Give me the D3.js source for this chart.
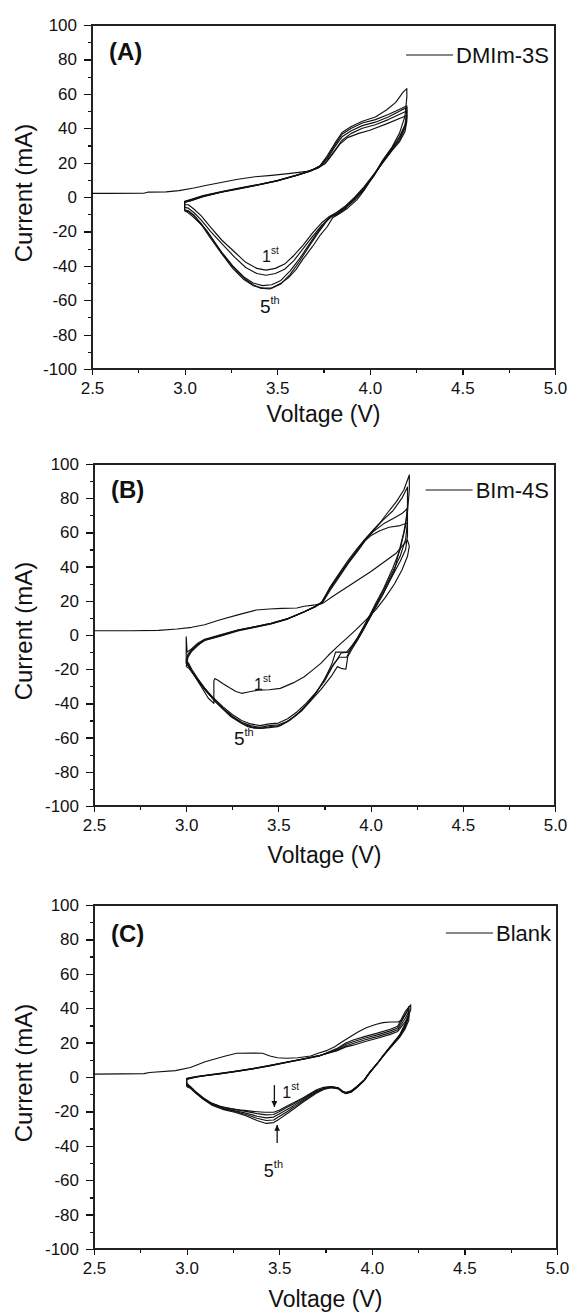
<!DOCTYPE html>
<html lang="en">
<head>
<meta charset="UTF-8">
<title>CV - five cycles</title>
<script src="https://d3js.org/d3.v7.min.js"></script>
<style>
body{margin:0;background:#fff;}
svg{display:block;font-family:"Liberation Sans",Arial,sans-serif;}
.axis path{display:none;}
.axis line{stroke:#111;stroke-width:1.2;shape-rendering:crispEdges;}
.axis text{font-size:17px;fill:#111;font-family:"Liberation Sans",Arial,sans-serif;}
.frame{fill:none;stroke:#222;stroke-width:1.4;shape-rendering:crispEdges;}
.cv{fill:none;stroke:#111;stroke-width:1.15;stroke-linejoin:round;}
.xtitle{font-size:23px;fill:#111;}
.ytitle{font-size:24px;fill:#111;}
.panelLabel{font-size:24px;font-weight:bold;fill:#111;}
.legendTxt{font-size:22px;fill:#111;}
.note{fill:#111;}
</style>
</head>
<body>
<script>
// ---- axes ----
var voltageTicks = [2.5, 3.0, 3.5, 4.0, 4.5, 5.0];
var voltageMinor = [2.75, 3.25, 3.75, 4.25, 4.75];
var currentTicks = [-100, -80, -60, -40, -20, 0, 20, 40, 60, 80, 100];
var currentMinor = [-90, -70, -50, -30, -10, 10, 30, 50, 70, 90];
var seriesNames = ["DMIm-3S", "BIm-4S", "Blank"];
var panelNames = ["(A)", "(B)", "(C)"];

// ---- (A) DMIm-3S, [V, mA] ----
var dmim1 = [[2.5,2.1],[2.6,2.1],[2.78,2.2],[2.8,2.8],[2.9,3.0],[2.97,3.7],[3.05,5.2],[3.12,6.8],[3.19,8.3],[3.28,10.2],[3.38,11.8],[3.47,12.6],[3.56,13.6],[3.66,14.9],[3.72,16.8],
  [3.76,19.5],[3.8,25],[3.84,31],[3.88,34.5],[3.94,37],[4.0,38.8],[4.09,42.5],[4.18,46.5],[4.2,47.5],
  [4.2,44],[4.19,38],[4.16,32],[4.12,27],[4.07,20],[4.02,13],[3.97,6],[3.92,0],[3.87,-5],[3.82,-9],[3.78,-11.5],[3.74,-15],[3.69,-21],[3.64,-28],[3.59,-34],[3.54,-39],[3.49,-41.5],[3.44,-42.5],[3.39,-41.5],[3.33,-38],[3.27,-32],[3.2,-25],[3.14,-17.5],[3.09,-11],[3.05,-7],[3.02,-4.5],[3.0,-4.5]];
var dmim2 = [[3.0,-4.5],[3.0,-2.5],[3.04,-1.2],[3.1,0.8],[3.2,3.2],[3.3,5.3],[3.4,7.3],[3.5,9.6],[3.6,12.4],[3.68,15],[3.73,17.5],[3.77,21],[3.81,27],[3.85,33],[3.9,37],[3.96,40],[4.03,42],[4.1,45],[4.17,48.5],[4.2,50],
  [4.2,46],[4.19,40],[4.16,33],[4.12,27.5],[4.07,20],[4.02,12.5],[3.97,5.5],[3.92,-0.5],[3.87,-5.5],[3.82,-9.5],[3.78,-12.5],[3.74,-16.5],[3.69,-23],[3.64,-30],[3.59,-37],[3.54,-42],[3.49,-44.5],[3.44,-45.5],[3.39,-44.5],[3.33,-41],[3.27,-35],[3.2,-27],[3.14,-20],[3.09,-13.5],[3.05,-9],[3.02,-6.5],[3.0,-6]];
var dmim3 = [[3.0,-6],[3.0,-2.8],[3.04,-1.5],[3.1,0.5],[3.2,3],[3.3,5.1],[3.4,7.2],[3.5,9.5],[3.6,12.6],[3.68,15.2],[3.73,17.8],[3.77,22],[3.81,29],[3.85,35],[3.9,38.5],[3.96,41.5],[4.03,43.5],[4.1,46.5],[4.17,50.5],[4.2,52],
  [4.2,48],[4.19,41],[4.16,34],[4.12,28],[4.07,20.5],[4.02,12],[3.97,5],[3.92,-1],[3.87,-6],[3.82,-10],[3.79,-11],[3.76,-14.5],[3.72,-20],[3.67,-28],[3.62,-36],[3.57,-43],[3.52,-48.5],[3.47,-51],[3.42,-51.5],[3.37,-50],[3.32,-46.5],[3.26,-40],[3.2,-32],[3.14,-23],[3.09,-15.5],[3.05,-10.5],[3.02,-8],[3.0,-7.5]];
var dmim4 = [[3.0,-7.5],[3.0,-3],[3.04,-1.8],[3.1,0.3],[3.2,2.9],[3.3,5],[3.4,7.1],[3.5,9.4],[3.6,12.5],[3.68,15.3],[3.73,18],[3.77,23],[3.81,30],[3.85,36.5],[3.9,40],[3.96,43],[4.03,45],[4.1,48],[4.17,51.5],[4.2,53],
  [4.2,50],[4.19,42],[4.16,35],[4.12,28.5],[4.07,21],[4.02,12],[3.97,4.5],[3.92,-1.5],[3.87,-6.5],[3.82,-10.5],[3.79,-11.5],[3.76,-15],[3.72,-21],[3.67,-29],[3.62,-37.5],[3.57,-45],[3.52,-50.5],[3.47,-53],[3.42,-53],[3.37,-51.5],[3.32,-48],[3.26,-41.5],[3.2,-33],[3.14,-24],[3.09,-16],[3.05,-11],[3.02,-8.5],[3.0,-8]];
var dmim5 = [[3.0,-8],[3.0,-3.2],[3.04,-2],[3.1,0.2],[3.2,2.8],[3.3,4.9],[3.4,7],[3.5,9.3],[3.6,12.4],[3.68,15.2],[3.73,18],[3.77,24],[3.81,31],[3.85,37.5],[3.9,41],[3.96,44],[4.03,46.5],[4.09,50.6],[4.14,55],[4.18,61],[4.2,63],
  [4.2,58],[4.19,47],[4.16,37],[4.12,29],[4.07,21.5],[4.02,12.5],[3.97,4],[3.93,-1.7],[3.88,-6.5],[3.84,-9.5],[3.8,-12],[3.77,-17.3],[3.73,-22.5],[3.69,-28.9],[3.64,-36],[3.6,-42.4],[3.56,-47],[3.52,-50.2],[3.46,-53.5],[3.41,-53],[3.37,-51],[3.33,-48],[3.28,-43],[3.245,-38.6],[3.2,-32.5],[3.155,-25],[3.12,-19.5],[3.083,-15.3],[3.04,-11],[3.01,-8.5],[3.0,-8]];

// ---- (B) BIm-4S ----
var bim1 = [[2.5,2.5],[2.7,2.5],[2.85,2.7],[2.95,3.5],[3.03,4.5],[3.1,6],[3.18,8.8],[3.28,11.8],[3.38,14.6],[3.45,15.2],[3.52,15.6],[3.6,15.8],[3.64,16.8],[3.7,17.6],[3.74,18.5],
  [3.8,23],[3.9,30],[4.0,37],[4.09,44],[4.14,48],[4.2,55.5],
  [4.21,52],[4.2,46],[4.17,38],[4.13,30],[4.08,22],[4.03,15],[3.975,8.8],[3.92,3],[3.87,-2],[3.82,-6.8],[3.77,-12],[3.73,-16.6],[3.68,-21],[3.64,-24.4],[3.58,-28],[3.51,-31.2],[3.45,-32],[3.39,-32.2],[3.33,-33.5],[3.3,-34.1],[3.27,-33],[3.24,-31.2],[3.2,-28.5],[3.17,-26.3],[3.155,-25.5],[3.15,-27],[3.15,-40],[3.12,-37],[3.08,-30],[3.04,-23],[3.01,-18],[3.0,-17]];
var bim2 = [[3.0,-17],[3.0,-1],[3.005,-10],[3.03,-8],[3.06,-5],[3.1,-2.5],[3.19,0.2],[3.28,2.9],[3.37,4.8],[3.46,6.8],[3.55,9.5],[3.64,13.6],[3.7,16.5],[3.74,19],[3.78,26],[3.83,34],[3.88,42],[3.93,49],[3.97,55],[4.0,58],[4.05,61],[4.1,63],[4.16,64],[4.2,65.5],
  [4.2,58],[4.19,50],[4.16,43],[4.12,35],[4.07,24.5],[4.03,17],[4.0,11],[3.96,3],[3.93,-2.5],[3.9,-7],[3.88,-10],[3.84,-10.5],[3.82,-14],[3.79,-19],[3.75,-27],[3.7,-34],[3.65,-40],[3.6,-45],[3.55,-49],[3.5,-51.5],[3.45,-52],[3.4,-53],[3.35,-52],[3.3,-50],[3.25,-46.5],[3.2,-42],[3.15,-37],[3.1,-31],[3.06,-25],[3.03,-20],[3.01,-16],[3.0,-15]];
var bim3 = [[3.0,-15],[3.01,-11],[3.03,-8.5],[3.06,-5.5],[3.1,-3],[3.19,-0.3],[3.28,2.6],[3.37,4.6],[3.46,6.6],[3.55,9.4],[3.64,13.6],[3.7,16.6],[3.74,19.5],[3.78,27],[3.83,35],[3.88,43],[3.93,50],[3.97,55.5],[4.02,61],[4.07,65],[4.12,68],[4.17,71],[4.2,74],
  [4.2,66],[4.19,56],[4.16,46],[4.12,37],[4.07,26],[4.03,18],[4.0,12],[3.96,4],[3.93,-1.5],[3.9,-6],[3.87,-10],[3.81,-10],[3.79,-17],[3.75,-26],[3.7,-34.5],[3.65,-41],[3.6,-46.5],[3.55,-50.5],[3.5,-52.5],[3.45,-53],[3.4,-54],[3.35,-53],[3.3,-51],[3.25,-47.5],[3.2,-43],[3.15,-38],[3.1,-32],[3.06,-26],[3.03,-21],[3.01,-17.5],[3.0,-16]];
var bim4 = [[3.0,-16],[3.01,-12],[3.03,-9],[3.06,-6],[3.1,-3.2],[3.19,-0.5],[3.28,2.4],[3.37,4.4],[3.46,6.5],[3.55,9.3],[3.64,13.5],[3.7,16.6],[3.74,19.8],[3.78,28],[3.83,36],[3.88,44],[3.93,51],[3.97,56],[4.02,62],[4.07,67.5],[4.12,72.5],[4.17,80],[4.2,86.5],
  [4.2,76],[4.19,64],[4.16,50],[4.12,39],[4.07,27],[4.03,19],[4.0,12.5],[3.96,4.5],[3.93,-1.5],[3.9,-6.5],[3.87,-13],[3.83,-13],[3.8,-17],[3.76,-24],[3.71,-33],[3.66,-40],[3.61,-45.5],[3.56,-50],[3.51,-53],[3.46,-53.5],[3.41,-54.5],[3.36,-54],[3.31,-52],[3.26,-48.5],[3.21,-44],[3.16,-39],[3.11,-33],[3.07,-27.5],[3.04,-23],[3.015,-19.5],[3.0,-18.5]];
var bim5 = [[3.0,-18.5],[3.01,-13],[3.03,-9.5],[3.06,-6.5],[3.098,-2.9],[3.19,0],[3.28,2.9],[3.37,4.8],[3.46,6.8],[3.55,9.6],[3.64,13.6],[3.7,16.8],[3.73,18.5],[3.785,28.3],[3.83,35.5],[3.876,41.9],[3.92,48.5],[3.966,55.5],[4.0,59.5],[4.05,65.5],[4.09,71.2],[4.14,78],[4.18,84.8],[4.21,93.6],
  [4.21,85],[4.2,72],[4.18,60],[4.15,47],[4.13,38],[4.07,24.4],[4.0,10.7],[3.96,3],[3.93,-2.9],[3.9,-8],[3.876,-12.7],[3.866,-20],[3.84,-19.5],[3.82,-18.5],[3.785,-24.4],[3.73,-32],[3.68,-38],[3.63,-44],[3.586,-47.8],[3.54,-51],[3.496,-53.6],[3.45,-54.2],[3.405,-54.6],[3.37,-54.5],[3.334,-53.6],[3.29,-51],[3.243,-47.8],[3.2,-43.5],[3.15,-38],[3.11,-32.5],[3.08,-28.3],[3.05,-24],[3.026,-20.5],[3.008,-16.6],[3.0,-15]];

// ---- (C) Blank ----
var blank1 = [[2.5,1.7],[2.65,1.8],[2.77,2.0],[2.8,2.6],[2.94,3.7],[3.02,5.5],[3.1,8.9],[3.21,12.2],[3.27,13.8],[3.36,13.9],[3.41,13.8],[3.45,12.2],[3.49,11.2],[3.54,10.9],[3.6,11.2],[3.67,12.2],[3.71,13.8],[3.76,15.5],[3.8,17.6],[3.84,20.5],[3.89,23.8],[3.93,26.5],[3.97,28.6],[4.02,30.5],[4.06,31.6],[4.1,32],[4.14,32],[4.16,33],[4.19,38],[4.2,41],
  [4.2,36],[4.18,30],[4.15,24],[4.1,17.6],[4.06,12],[4.03,8],[3.99,3],[3.96,-1.7],[3.92,-5.5],[3.89,-8],[3.86,-9],[3.84,-8.5],[3.82,-6.5],[3.78,-5.6],[3.74,-6],[3.705,-7.3],[3.67,-9.5],[3.63,-12],[3.58,-14.8],[3.54,-17],[3.5,-19.3],[3.47,-20.5],[3.42,-20.5],[3.36,-20],[3.3,-19.3],[3.24,-18.3],[3.18,-17],[3.12,-14.5],[3.07,-11],[3.04,-8],[3.01,-4.5],[3.0,-3.5]];
var blank2 = [[3.0,-3.5],[3.0,-0.8],[3.05,0.3],[3.1,1],[3.18,2.1],[3.27,3.5],[3.36,5],[3.45,6.8],[3.54,8.7],[3.63,10.6],[3.72,12.6],[3.81,15.2],[3.86,17.5],[3.9,18.5],[3.96,20.5],[4.03,22.5],[4.1,24.8],[4.14,26.5],[4.18,32],[4.2,36],
  [4.2,33],[4.18,28],[4.15,23],[4.1,17],[4.06,12],[4.03,8],[3.99,3],[3.96,-1.5],[3.92,-5.5],[3.89,-8],[3.86,-9],[3.84,-8],[3.82,-6.3],[3.78,-5.6],[3.74,-6.5],[3.7,-8],[3.66,-10.5],[3.62,-13],[3.58,-15.5],[3.54,-17.8],[3.5,-20.2],[3.47,-21.8],[3.43,-22],[3.38,-21.3],[3.32,-20],[3.26,-19],[3.2,-17.8],[3.14,-15.5],[3.09,-12],[3.05,-8.5],[3.02,-5.5],[3.0,-4.5]];
var blank3 = [[3.0,-4.5],[3.0,-1],[3.05,0.1],[3.1,0.9],[3.18,2],[3.27,3.4],[3.36,4.9],[3.45,6.7],[3.54,8.6],[3.63,10.5],[3.72,12.5],[3.81,15.6],[3.86,18.2],[3.9,19.5],[3.96,21.5],[4.03,23.5],[4.1,25.8],[4.14,27.5],[4.18,34],[4.2,38],
  [4.2,35],[4.18,29],[4.15,23.5],[4.1,17.2],[4.06,12],[4.03,7.8],[3.99,2.8],[3.96,-1.7],[3.92,-5.8],[3.89,-8.3],[3.86,-9.3],[3.84,-8.3],[3.82,-6.5],[3.78,-5.8],[3.74,-6.8],[3.7,-8.5],[3.66,-11],[3.62,-13.8],[3.58,-16.5],[3.54,-19],[3.5,-21.5],[3.47,-23.3],[3.43,-23.8],[3.38,-22.8],[3.32,-21],[3.26,-19.6],[3.2,-18.2],[3.14,-16],[3.09,-12.5],[3.05,-9],[3.02,-6],[3.0,-5]];
var blank4 = [[3.0,-5],[3.0,-1.2],[3.05,0],[3.1,0.8],[3.18,1.9],[3.27,3.3],[3.36,4.8],[3.45,6.6],[3.54,8.5],[3.63,10.4],[3.72,12.4],[3.81,16],[3.86,19],[3.9,20.5],[3.96,22.5],[4.03,24.5],[4.1,26.8],[4.14,28.5],[4.18,36],[4.2,40],
  [4.2,37],[4.18,30],[4.15,24],[4.1,17.5],[4.06,12.2],[4.03,7.8],[3.99,2.6],[3.96,-1.9],[3.92,-6],[3.89,-8.6],[3.86,-9.5],[3.84,-8.5],[3.82,-6.7],[3.78,-6],[3.74,-7],[3.7,-9],[3.66,-11.6],[3.62,-14.5],[3.58,-17.5],[3.54,-20.3],[3.5,-23],[3.47,-25],[3.43,-25.3],[3.38,-24],[3.32,-21.8],[3.26,-20],[3.2,-18.5],[3.14,-16.3],[3.09,-12.8],[3.05,-9.2],[3.02,-6.3],[3.0,-5.3]];
var blank5 = [[3.0,-5.3],[3.0,-1.4],[3.05,-0.1],[3.1,0.7],[3.18,1.8],[3.27,3.2],[3.36,4.7],[3.45,6.5],[3.54,8.4],[3.63,10.3],[3.72,12.3],[3.81,16.5],[3.86,19.8],[3.9,21.5],[3.96,23.5],[4.03,25.5],[4.1,27.8],[4.14,29.5],[4.18,38],[4.21,42],
  [4.21,39],[4.18,31],[4.15,24.5],[4.1,17.8],[4.06,12.4],[4.03,8],[3.99,2.5],[3.96,-2],[3.92,-6.2],[3.89,-8.8],[3.86,-9.7],[3.84,-8.7],[3.82,-6.9],[3.78,-6.2],[3.74,-7.3],[3.7,-9.5],[3.66,-12.3],[3.62,-15.3],[3.58,-18.5],[3.54,-21.5],[3.5,-24.5],[3.47,-26.5],[3.43,-27],[3.38,-25.3],[3.32,-22.5],[3.26,-20.5],[3.2,-19],[3.14,-16.6],[3.09,-13],[3.05,-9.5],[3.02,-6.5],[3.0,-5.5]];

// cycle annotations: [V, mA] of the "1st" / "5th" text baselines, arrows (C only)
var noteFirst = [[3.418,-37.8],[3.368,-32.2],[3.517,-12.2]];
var noteFifth = [[3.407,-67.4],[3.259,-64.3],[3.417,-58.1]];
var arrowFirst = [3.474, -4.7, -17.4];   // V, from, to
var arrowFifth = [3.489, -38.4, -27.9];

var width = 575;
var height = 1314;

var svg = d3.select("body").append("svg")
    .attr("width", width)
    .attr("height", height);

svg.append("defs").append("marker")
    .attr("id", "arrowHead")
    .attr("viewBox", "0 0 10 10")
    .attr("refX", 10).attr("refY", 5)
    .attr("markerWidth", 4.5).attr("markerHeight", 4.5)
    .attr("orient", "auto")
    .append("path").attr("d", "M0,0L10,5L0,10z").attr("fill", "#111");

// 面板布局
var panels = [
    {left: 92, right: 555, top: 25,  bottom: 369,  cycles: [dmim1, dmim2, dmim3, dmim4, dmim5], labelDy: 35, legendDy: 38, xTitleDy: 53, firstSize: 16, fifthSize: 19},
    {left: 94, right: 555, top: 464, bottom: 806,  cycles: [bim1, bim2, bim3, bim4, bim5],     labelDy: 34, legendDy: 34, xTitleDy: 57, firstSize: 16, fifthSize: 19},
    {left: 94, right: 557, top: 905, bottom: 1249, cycles: [blank1, blank2, blank3, blank4, blank5], labelDy: 37, legendDy: 36, xTitleDy: 58, firstSize: 16, fifthSize: 18}
];

panels.forEach(function(p, k) {
    var g = svg.append("g");

    var xScale = d3.scaleLinear().domain([2.5, 5.0]).range([p.left, p.right]);
    var yScale = d3.scaleLinear().domain([-100, 100]).range([p.bottom, p.top]);

    // 次刻度
    g.append("g").attr("class", "axis")
        .attr("transform", "translate(0," + p.bottom + ")")
        .call(d3.axisBottom(xScale).tickValues(voltageMinor).tickSize(3.5).tickSizeOuter(0).tickFormat(""));
    g.append("g").attr("class", "axis")
        .attr("transform", "translate(" + p.left + ",0)")
        .call(d3.axisLeft(yScale).tickValues(currentMinor).tickSize(4).tickSizeOuter(0).tickFormat(""));

    // 主刻度
    g.append("g").attr("class", "axis")
        .attr("transform", "translate(0," + p.bottom + ")")
        .call(d3.axisBottom(xScale).tickValues(voltageTicks).tickSize(6).tickPadding(7).tickSizeOuter(0)
            .tickFormat(d3.format(".1f")));
    g.append("g").attr("class", "axis")
        .attr("transform", "translate(" + p.left + ",0)")
        .call(d3.axisLeft(yScale).tickValues(currentTicks).tickSize(8).tickPadding(7).tickSizeOuter(0)
            .tickFormat(function(d) { return String(d); }));

    // 边框
    g.append("rect").attr("class", "frame")
        .attr("x", p.left).attr("y", p.top)
        .attr("width", p.right - p.left).attr("height", p.bottom - p.top);

    // 曲线
    var line = d3.line()
        .x(function(d) { return xScale(d[0]); })
        .y(function(d) { return yScale(d[1]); });
    g.selectAll(".cv").data(p.cycles).enter()
        .append("path").attr("class", "cv")
        .attr("d", line);

    // 轴标题
    g.append("text").attr("class", "xtitle")
        .attr("text-anchor", "middle")
        .attr("x", (p.left + p.right) / 2)
        .attr("y", p.bottom + p.xTitleDy)
        .text("Voltage (V)");
    g.append("text").attr("class", "ytitle")
        .attr("text-anchor", "middle")
        .attr("transform", "translate(32," + ((p.top + p.bottom) / 2 - 4) + ") rotate(-90)")
        .text("Current (mA)");

    // 面板编号
    g.append("text").attr("class", "panelLabel")
        .attr("x", p.left + 17)
        .attr("y", p.top + p.labelDy)
        .text(panelNames[k]);

    // 图例
    var legendTxt = g.append("text").attr("class", "legendTxt")
        .attr("text-anchor", "end")
        .attr("x", p.right - 6)
        .attr("y", p.top + p.legendDy)
        .text(seriesNames[k]);
    var tw = legendTxt.node().getComputedTextLength();
    var lx = p.right - 6 - tw - 3;
    g.append("line")
        .attr("x1", lx - 47).attr("x2", lx)
        .attr("y1", p.top + p.legendDy - 8).attr("y2", p.top + p.legendDy - 8)
        .attr("stroke", "#111").attr("stroke-width", 1.2);

    // 1st / 5th
    var t1 = g.append("text").attr("class", "note")
        .attr("x", xScale(noteFirst[k][0])).attr("y", yScale(noteFirst[k][1]))
        .style("font-size", p.firstSize + "px").text("1");
    t1.append("tspan").attr("dy", -8).style("font-size", "10px").text("st");
    var t5 = g.append("text").attr("class", "note")
        .attr("x", xScale(noteFifth[k][0])).attr("y", yScale(noteFifth[k][1]))
        .style("font-size", p.fifthSize + "px").text("5");
    t5.append("tspan").attr("dy", -9).style("font-size", "11px").text("th");

    if (k === 2) {
        [arrowFirst, arrowFifth].forEach(function(a) {
            g.append("line")
                .attr("x1", xScale(a[0])).attr("x2", xScale(a[0]))
                .attr("y1", yScale(a[1])).attr("y2", yScale(a[2]))
                .attr("stroke", "#111").attr("stroke-width", 1.3)
                .attr("marker-end", "url(#arrowHead)");
        });
    }
});
</script>
</body>
</html>
